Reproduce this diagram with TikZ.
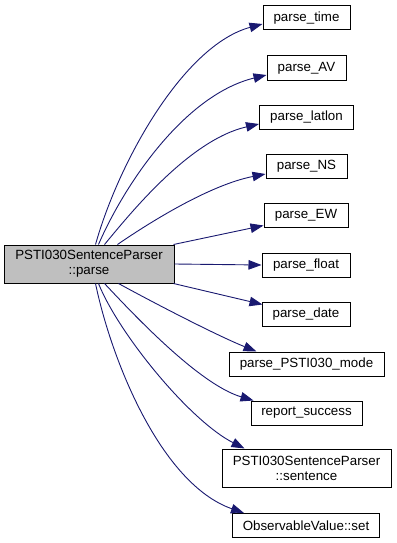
\documentclass[tikz,border=0pt]{standalone}
\usepackage{fontspec}
\setmainfont{Liberation Sans}
\usetikzlibrary{arrows.meta,calc}
\definecolor{edgeblue}{HTML}{191970}
\definecolor{rootgray}{HTML}{BFBFBF}
\tikzset{
  fn/.style={draw=black, line width=1pt, fill=white, inner sep=0pt,
    font=\fontsize{13.33}{15}\selectfont, align=center, minimum height=24pt},
  rootfn/.style={fn, fill=rootgray, minimum height=38pt},
  call/.style={draw=edgeblue, line width=0.9pt,
    -{Triangle[length=13pt,width=9.5pt,fill=edgeblue]}},
}
\begin{document}
\begin{tikzpicture}[x=1pt,y=-1pt]
\useasboundingbox (0,0) rectangle (396,543);

% caller
\node[rootfn, minimum width=170pt] (main) at (89,264) {PSTI030SentenceParser\\::parse};

% callees
\node[fn, minimum width=87pt]  (ptime)   at (306.5,18)   {parse\_time};
\node[fn, minimum width=79pt]  (pav)     at (306.5,68)   {parse\_AV};
\node[fn, minimum width=94pt]  (platlon) at (306.5,117)  {parse\_latlon};
\node[fn, minimum width=81pt]  (pns)     at (306.5,166)  {parse\_NS};
\node[fn, minimum width=84pt]  (pew)     at (306,215.5)  {parse\_EW};
\node[fn, minimum width=88pt]  (pfloat)  at (306,265)    {parse\_float};
\node[fn, minimum width=88pt]  (pdate)   at (306,314)    {parse\_date};
\node[fn, minimum width=155pt] (pmode)   at (306.5,364)  {parse\_PSTI030\_mode};
\node[fn, minimum width=111pt] (preport) at (306.5,413)  {report\_success};
\node[fn, minimum width=169pt, minimum height=38pt] (psent) at (306.5,468)
  {PSTI030SentenceParser\\::sentence};
\node[fn, minimum width=147pt] (pset)    at (306,525.5)  {ObservableValue::set};

% calls leaving the top of the caller
\draw[call] ($(main.north west)+(92,0)$)
  .. controls +(24,-85) and +(-78,21) .. ($(ptime.west)+(0,6)$);
\draw[call] ($(main.north west)+(95,0)$)
  .. controls +(26,-60) and +(-82,20) .. ($(pav.west)+(0,7)$);
\draw[call] ($(main.north west)+(101,0)$)
  .. controls +(25,-30) and +(-70,16) .. ($(platlon.west)+(0,7)$);
\draw[call] ($(main.north west)+(114,0)$)
  .. controls +(32,-22) and +(-56,11) .. ($(pns.west)+(0,8)$);
\draw[call] ($(main.north east)+(-1,0)$) -- ($(pew.west)+(0,10)$);

% straight call to the right
\draw[call] (main.east) -- (pfloat.west);

% calls leaving the bottom of the caller
\draw[call] ($(main.south east)+(-1,0)$) -- ($(pdate.north west)+(1,3)$);
\draw[call] ($(main.south west)+(115,0)$)
  .. controls +(31,17) and +(-42,-17) .. ($(pmode.north west)+(28,0)$);
\draw[call] ($(main.south west)+(101,0)$)
  .. controls +(30,32) and +(-54,-16) .. ($(preport.north west)+(3,0)$);
\draw[call] ($(main.south west)+(95,0)$)
  .. controls +(20,50) and +(-55,-28) .. ($(psent.north west)+(23,0)$);
\draw[call] ($(main.south west)+(92,0)$)
  .. controls +(16,77) and +(-83,-29) .. ($(pset.north west)+(12,0)$);
\end{tikzpicture}
\end{document}
